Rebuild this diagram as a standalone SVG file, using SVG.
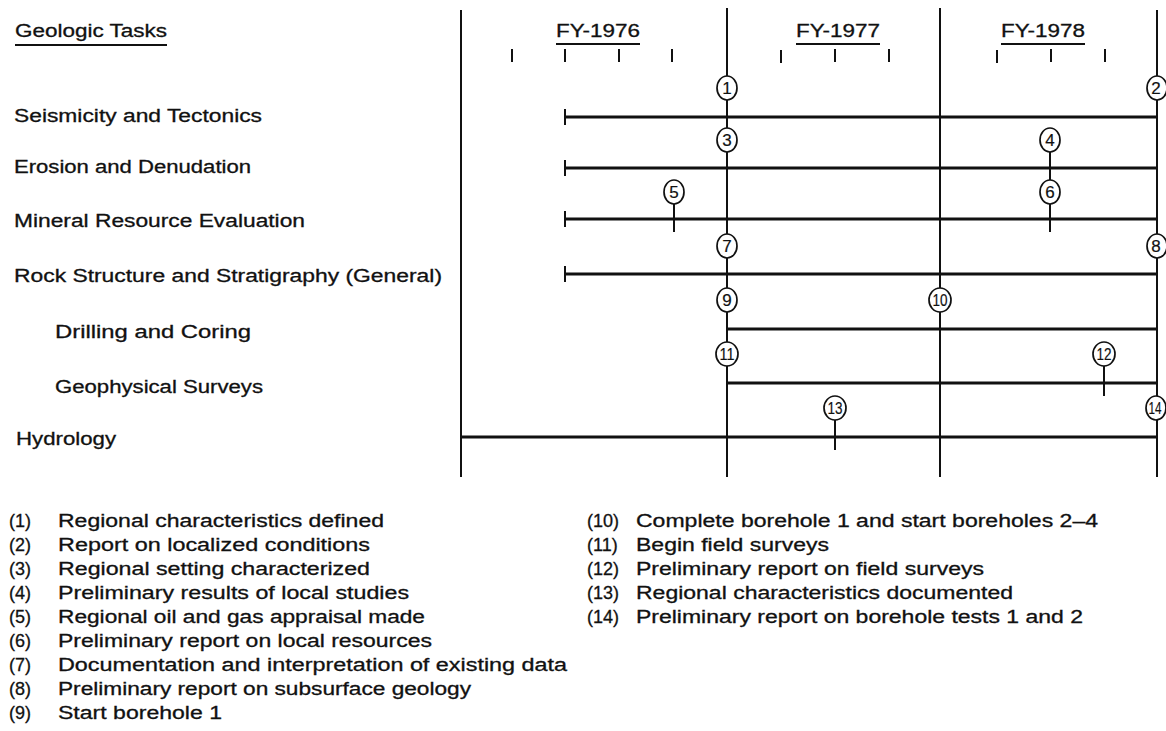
<svg xmlns="http://www.w3.org/2000/svg" width="1166" height="731" viewBox="0 0 1166 731">
<style>
text{font-family:"Liberation Sans",Arial,sans-serif;fill:#111;stroke:#111;stroke-width:0.3;}
.lbl{font-size:18px;}
.hdr{font-size:18px;}
.leg{font-size:18px;}
.num{font-size:17px;text-anchor:middle;stroke-width:0.2;}
.axis{stroke:#111;stroke-width:2;fill:none;}
.bar{stroke:#111;stroke-width:3;fill:none;}
.tick{stroke:#111;stroke-width:2;fill:none;}
.ul{stroke:#111;stroke-width:2;}
.ms{fill:#fff;stroke:#111;stroke-width:1.7;}
</style>
<rect width="1166" height="731" fill="#fff"/>
<g id="header">
<text class="hdr" x="15" y="37" textLength="152" lengthAdjust="spacingAndGlyphs">Geologic Tasks</text>
<line class="ul" x1="15" y1="45" x2="167" y2="45"/>
<text class="hdr" x="556" y="37" textLength="84" lengthAdjust="spacingAndGlyphs">FY-1976</text>
<line class="ul" x1="556" y1="44" x2="640" y2="44"/>
<text class="hdr" x="796" y="37" textLength="84" lengthAdjust="spacingAndGlyphs">FY-1977</text>
<line class="ul" x1="796" y1="44" x2="880" y2="44"/>
<text class="hdr" x="1001" y="37" textLength="84" lengthAdjust="spacingAndGlyphs">FY-1978</text>
<line class="ul" x1="1001" y1="44" x2="1085" y2="44"/>
</g>
<g id="axis">
<line class="axis" x1="461" y1="10" x2="461" y2="477"/>
<line class="axis" x1="727" y1="8" x2="727" y2="477"/>
<line class="axis" x1="940" y1="8" x2="940" y2="477"/>
<line class="axis" x1="1157" y1="10" x2="1157" y2="477"/>
<path class="tick" d="M512 49V62M565 49V62M619 49V62M672 49V62M781 50V63M835 49V62M889 49V62M997 50V63M1051 49V62M1105 49V62"/>
</g>
<g id="task-labels">
<text class="lbl" x="14" y="122" textLength="248" lengthAdjust="spacingAndGlyphs">Seismicity and Tectonics</text>
<text class="lbl" x="14" y="173" textLength="237" lengthAdjust="spacingAndGlyphs">Erosion and Denudation</text>
<text class="lbl" x="14" y="227" textLength="291" lengthAdjust="spacingAndGlyphs">Mineral Resource Evaluation</text>
<text class="lbl" x="14" y="282" textLength="428" lengthAdjust="spacingAndGlyphs">Rock Structure and Stratigraphy (General)</text>
<text class="lbl" x="55" y="338" textLength="196" lengthAdjust="spacingAndGlyphs">Drilling and Coring</text>
<text class="lbl" x="55" y="393" textLength="208" lengthAdjust="spacingAndGlyphs">Geophysical Surveys</text>
<text class="lbl" x="16" y="445" textLength="100" lengthAdjust="spacingAndGlyphs">Hydrology</text>
</g>
<g id="connectors">
<path class="bar" d="M565 117H1157M565 168H1157M565 219H1157M565 274H1157M727 329H1157M727 383H1157M461 437H1157"/>
<path class="tick" d="M565 109V125M565 160V176M565 211V227M565 266V282"/>
<path class="tick" d="M1050 152V180M674 204V232M1050 204V232M1104 366V396M835 420V450"/>
</g>
<g id="m1"><ellipse class="ms" cx="727" cy="88" rx="10" ry="12"/><text class="num" x="727" y="94">1</text></g>
<g id="m2"><ellipse class="ms" cx="1157" cy="88" rx="10" ry="12"/><text class="num" x="1156" y="94">2</text></g>
<g id="m3"><ellipse class="ms" cx="727" cy="140" rx="10" ry="12"/><text class="num" x="727" y="146">3</text></g>
<g id="m4"><ellipse class="ms" cx="1050" cy="140" rx="10" ry="12"/><text class="num" x="1050" y="146">4</text></g>
<g id="m5"><ellipse class="ms" cx="674" cy="192" rx="10" ry="12"/><text class="num" x="674" y="198">5</text></g>
<g id="m6"><ellipse class="ms" cx="1050" cy="192" rx="10" ry="12"/><text class="num" x="1050" y="198">6</text></g>
<g id="m7"><ellipse class="ms" cx="727" cy="246" rx="10" ry="12"/><text class="num" x="727" y="252">7</text></g>
<g id="m8"><ellipse class="ms" cx="1157" cy="246" rx="10" ry="12"/><text class="num" x="1156" y="252">8</text></g>
<g id="m9"><ellipse class="ms" cx="727" cy="300" rx="10" ry="12"/><text class="num" x="727" y="306">9</text></g>
<g id="m10"><ellipse class="ms" cx="940" cy="300" rx="11" ry="12"/><text class="num" x="940" y="306" textLength="15" lengthAdjust="spacingAndGlyphs">10</text></g>
<g id="m11"><ellipse class="ms" cx="727" cy="354" rx="11" ry="12"/><text class="num" x="727" y="360" textLength="15" lengthAdjust="spacingAndGlyphs">11</text></g>
<g id="m12"><ellipse class="ms" cx="1104" cy="354" rx="11" ry="12"/><text class="num" x="1104" y="360" textLength="15" lengthAdjust="spacingAndGlyphs">12</text></g>
<g id="m13"><ellipse class="ms" cx="835" cy="408" rx="11" ry="12"/><text class="num" x="835" y="414" textLength="15" lengthAdjust="spacingAndGlyphs">13</text></g>
<g id="m14"><ellipse class="ms" cx="1156" cy="408" rx="10" ry="12"/><text class="num" x="1155" y="414" textLength="13" lengthAdjust="spacingAndGlyphs">14</text></g>
<g id="legend">
<text class="leg" x="9" y="527">(1)</text><text class="leg" x="58" y="527" textLength="326" lengthAdjust="spacingAndGlyphs">Regional characteristics defined</text>
<text class="leg" x="9" y="551">(2)</text><text class="leg" x="58" y="551" textLength="312" lengthAdjust="spacingAndGlyphs">Report on localized conditions</text>
<text class="leg" x="9" y="575">(3)</text><text class="leg" x="58" y="575" textLength="312" lengthAdjust="spacingAndGlyphs">Regional setting characterized</text>
<text class="leg" x="9" y="599">(4)</text><text class="leg" x="58" y="599" textLength="351" lengthAdjust="spacingAndGlyphs">Preliminary results of local studies</text>
<text class="leg" x="9" y="623">(5)</text><text class="leg" x="58" y="623" textLength="367" lengthAdjust="spacingAndGlyphs">Regional oil and gas appraisal made</text>
<text class="leg" x="9" y="647">(6)</text><text class="leg" x="58" y="647" textLength="374" lengthAdjust="spacingAndGlyphs">Preliminary report on local resources</text>
<text class="leg" x="9" y="671">(7)</text><text class="leg" x="58" y="671" textLength="509" lengthAdjust="spacingAndGlyphs">Documentation and interpretation of existing data</text>
<text class="leg" x="9" y="695">(8)</text><text class="leg" x="58" y="695" textLength="413" lengthAdjust="spacingAndGlyphs">Preliminary report on subsurface geology</text>
<text class="leg" x="9" y="719">(9)</text><text class="leg" x="58" y="719" textLength="164" lengthAdjust="spacingAndGlyphs">Start borehole 1</text>
<text class="leg" x="587" y="527">(10)</text><text class="leg" x="636" y="527" textLength="462" lengthAdjust="spacingAndGlyphs">Complete borehole 1 and start boreholes 2–4</text>
<text class="leg" x="587" y="551">(11)</text><text class="leg" x="636" y="551" textLength="193" lengthAdjust="spacingAndGlyphs">Begin field surveys</text>
<text class="leg" x="587" y="575">(12)</text><text class="leg" x="636" y="575" textLength="348" lengthAdjust="spacingAndGlyphs">Preliminary report on field surveys</text>
<text class="leg" x="587" y="599">(13)</text><text class="leg" x="636" y="599" textLength="377" lengthAdjust="spacingAndGlyphs">Regional characteristics documented</text>
<text class="leg" x="587" y="623">(14)</text><text class="leg" x="636" y="623" textLength="447" lengthAdjust="spacingAndGlyphs">Preliminary report on borehole tests 1 and 2</text>
</g>
</svg>
